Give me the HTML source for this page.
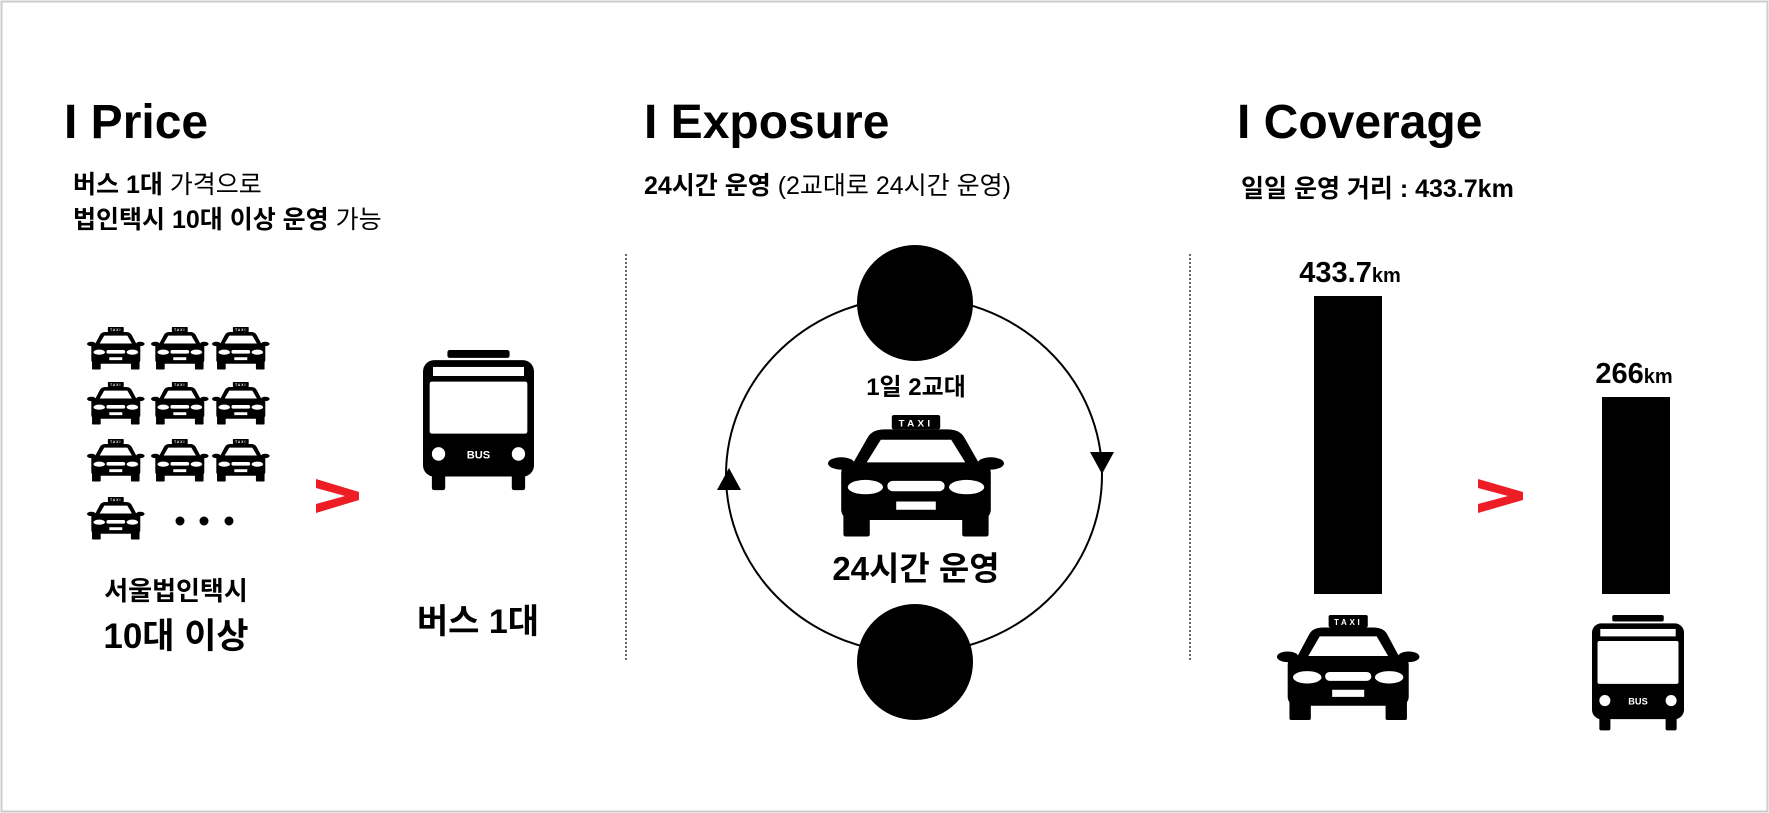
<!DOCTYPE html>
<html><head><meta charset="utf-8"><style>
html,body{margin:0;padding:0;background:#fff;}
svg{display:block;}
text{font-family:"Liberation Sans","Noto Sans CJK KR",sans-serif;font-weight:bold;fill:#000;}
</style></head><body>
<svg width="1769" height="813" viewBox="0 0 1769 813" xmlns="http://www.w3.org/2000/svg">
<defs>
<g id="taxi">
  <rect x="58" y="0" width="44" height="14" rx="2" fill="#000"/>
  <text x="80" y="11" font-size="9" text-anchor="middle" style="fill:#fff;letter-spacing:3px">TAXI</text>
  <path d="M36 22 Q40 14 52 14 H108 Q120 14 124 22 L140 52 H20 Z" fill="#000"/>
  <path d="M48 24 H112 L126 48 H34 Z" fill="#fff"/>
  <ellipse cx="12" cy="47" rx="12" ry="6" fill="#000"/>
  <ellipse cx="148" cy="47" rx="12" ry="6" fill="#000"/>
  <rect x="12" y="46" width="136" height="56" rx="10" fill="#000"/>
  <ellipse cx="34" cy="70" rx="16" ry="7" fill="#fff"/>
  <ellipse cx="126" cy="70" rx="16" ry="7" fill="#fff"/>
  <rect x="54" y="64" width="52" height="10" rx="5" fill="#fff"/>
  <rect x="62" y="84" width="36" height="8" fill="#fff"/>
  <rect x="14" y="96" width="24" height="22" rx="2" fill="#000"/>
  <rect x="122" y="96" width="24" height="22" rx="2" fill="#000"/>
</g>
<g id="bus">
  <rect x="22" y="0" width="56" height="7" rx="2" fill="#000"/>
  <rect x="0" y="9" width="100" height="103" rx="10" fill="#000"/>
  <rect x="9" y="15" width="82" height="8" fill="#fff"/>
  <rect x="6" y="28" width="88" height="46" rx="2" fill="#fff"/>
  <circle cx="14" cy="92" r="6" fill="#fff"/>
  <circle cx="86" cy="92" r="6" fill="#fff"/>
  <text x="50" y="96" font-size="10" text-anchor="middle" style="fill:#fff">BUS</text>
  <rect x="8" y="108" width="12" height="16" rx="2" fill="#000"/>
  <rect x="80" y="108" width="12" height="16" rx="2" fill="#000"/>
</g>
</defs>
<rect x="1.5" y="1.5" width="1766" height="810" fill="none" stroke="#ccc" stroke-width="2"/>

<!-- Price -->
<text x="64" y="138" font-size="48">I Price</text>
<text x="73" y="193" font-size="25">버스 1대 <tspan font-weight="normal">가격으로</tspan></text>
<text x="73" y="228" font-size="25">법인택시 10대 이상 운영 <tspan font-weight="normal">가능</tspan></text>
<g>
  <use href="#taxi" transform="translate(87,327) scale(0.36)"/>
  <use href="#taxi" transform="translate(151,327) scale(0.36)"/>
  <use href="#taxi" transform="translate(212,327) scale(0.36)"/>
  <use href="#taxi" transform="translate(87,382) scale(0.36)"/>
  <use href="#taxi" transform="translate(151,382) scale(0.36)"/>
  <use href="#taxi" transform="translate(212,382) scale(0.36)"/>
  <use href="#taxi" transform="translate(87,439) scale(0.36)"/>
  <use href="#taxi" transform="translate(151,439) scale(0.36)"/>
  <use href="#taxi" transform="translate(212,439) scale(0.36)"/>
  <use href="#taxi" transform="translate(87,497) scale(0.36)"/>
</g>
<circle cx="180" cy="521" r="4.5"/><circle cx="204" cy="521" r="4.5"/><circle cx="229" cy="521" r="4.5"/>
<path d="M316 479 L359 492 L359 500 L316 513 L316 504 L345 496 L316 488 Z" fill="#ee1c25"/>
<use href="#bus" transform="translate(423,350) scale(1.11,1.13)"/>
<text x="176" y="600" font-size="26" text-anchor="middle">서울법인택시</text>
<text x="176" y="648" font-size="35" text-anchor="middle">10대 이상</text>
<text x="478" y="633" font-size="34" text-anchor="middle">버스 1대</text>

<line x1="626" y1="254" x2="626" y2="660" stroke="#333" stroke-width="1.5" stroke-dasharray="2,2"/>
<line x1="1190" y1="254" x2="1190" y2="660" stroke="#333" stroke-width="1.5" stroke-dasharray="2,2"/>

<!-- Exposure -->
<text x="644" y="138" font-size="48">I Exposure</text>
<text x="644" y="194" font-size="25">24시간 운영 <tspan font-weight="normal">(2교대로 24시간 운영)</tspan></text>
<ellipse cx="914" cy="475" rx="188" ry="178" fill="none" stroke="#000" stroke-width="2"/>
<circle cx="915" cy="303" r="58" fill="#000"/>
<circle cx="915" cy="662" r="58" fill="#000"/>
<path d="M717 490 L741 490 L729 468 Z" fill="#000"/>
<path d="M1090 452 L1114 452 L1102 474 Z" fill="#000"/>
<text x="916" y="395" font-size="24" text-anchor="middle">1일 2교대</text>
<use href="#taxi" transform="translate(828,415) scale(1.1,1.03)"/>
<text x="916" y="580" font-size="33" text-anchor="middle">24시간 운영</text>

<!-- Coverage -->
<text x="1237" y="138" font-size="48">I Coverage</text>
<text x="1241" y="197" font-size="25">일일 운영 거리 : 433.7km</text>
<text x="1350" y="282" font-size="29" text-anchor="middle">433.7<tspan font-size="20">km</tspan></text>
<rect x="1314" y="296" width="68" height="298" fill="#000"/>
<text x="1634" y="383" font-size="29" text-anchor="middle">266<tspan font-size="20">km</tspan></text>
<rect x="1602" y="397" width="68" height="197" fill="#000"/>
<path d="M1478 479 L1523 492 L1523 500 L1478 513 L1478 504 L1508 496 L1478 488 Z" fill="#ee1c25"/>
<use href="#taxi" transform="translate(1277,615) scale(0.89)"/>
<use href="#bus" transform="translate(1592,615) scale(0.92,0.93)"/>
</svg>
</body></html>
